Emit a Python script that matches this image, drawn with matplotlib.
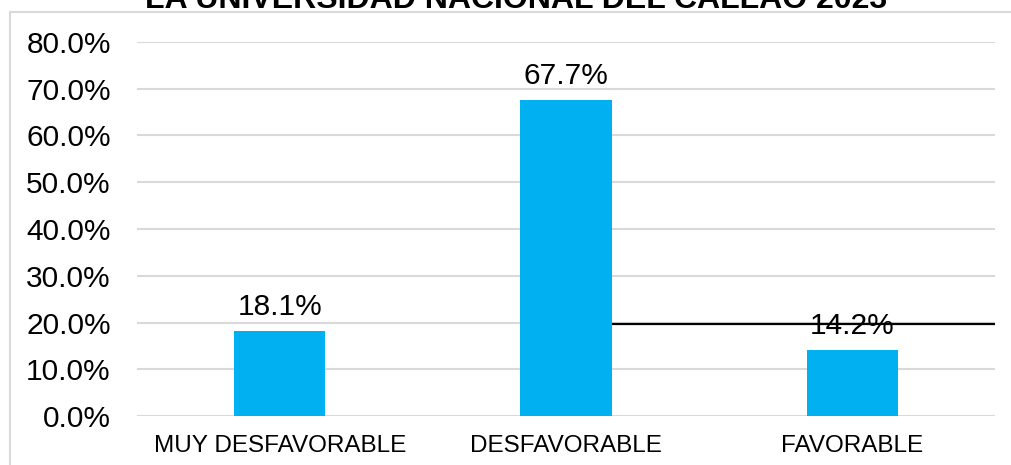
import matplotlib
matplotlib.use("Agg")
import matplotlib.pyplot as plt
from matplotlib.lines import Line2D
from matplotlib.ticker import FuncFormatter

plt.rcParams['font.family'] = ['Liberation Sans', 'DejaVu Sans']

title = "LA UNIVERSIDAD NACIONAL DEL CALLAO 2023"
categories = ["MUY DESFAVORABLE", "DESFAVORABLE", "FAVORABLE"]
values = [18.1, 67.7, 14.2]
value_labels = ["18.1%", "67.7%", "14.2%"]
yticks = [0, 10, 20, 30, 40, 50, 60, 70, 80]
ref_line_y = 19.6

W, H = 1011, 465
fig = plt.figure(figsize=(W / 100, H / 100), dpi=100)
left, right, top, bottom = 136.5, 995.5, 42, 416
ax = fig.add_axes([left / W, 1 - bottom / H, (right - left) / W, (bottom - top) / H])

bar_color = "#00B0F0"
width = 0.32
x = list(range(len(categories)))
ax.bar(x, values, width=width, color=bar_color, zorder=3)
ax.set_xlim(-0.5, len(categories) - 0.5)
ax.set_ylim(0, 80)
ax.set_yticks(yticks)
ax.yaxis.set_major_formatter(FuncFormatter(lambda v, p: f"{v:.1f}%"))
ax.set_xticks(x)
ax.set_xticklabels(categories)
ax.grid(axis='y', color="#D9D9D9", linewidth=1.5, zorder=0)
ax.set_axisbelow(True)
for s in ax.spines.values():
    s.set_visible(False)
ax.tick_params(axis='y', length=0, pad=18.5, labelsize=21.5, labelcolor="#000000")
ax.tick_params(axis='x', length=0, pad=13.5, labelsize=17.5, labelcolor="#000000")

for xi, v, lab in zip(x, values, value_labels):
    ax.annotate(lab, (xi, v), xytext=(0, 11.5), textcoords='offset points',
                ha='center', va='baseline', fontsize=21.5, color="#000000", zorder=5)

# stray black line
ax.hlines(ref_line_y, 1 + width / 2, len(categories) - 0.5, color="black",
          linewidth=1.6, zorder=4)

# chart border (light gray)
fig.add_artist(Line2D([10 / W, 1], [1 - 12.5 / H, 1 - 12.5 / H], color="#D9D9D9",
                      linewidth=1.5, transform=fig.transFigure))
fig.add_artist(Line2D([10 / W, 10 / W], [0, 1 - 12.5 / H], color="#D9D9D9",
                      linewidth=1.5, transform=fig.transFigure))

# title (mostly cut off at top, as in the reference)
fig.text(516 / W, 1 - 8 / H, title, ha='center', va='baseline', fontsize=23,
         fontweight='bold', color="#000000")

fig.savefig("out.png", dpi=100)
